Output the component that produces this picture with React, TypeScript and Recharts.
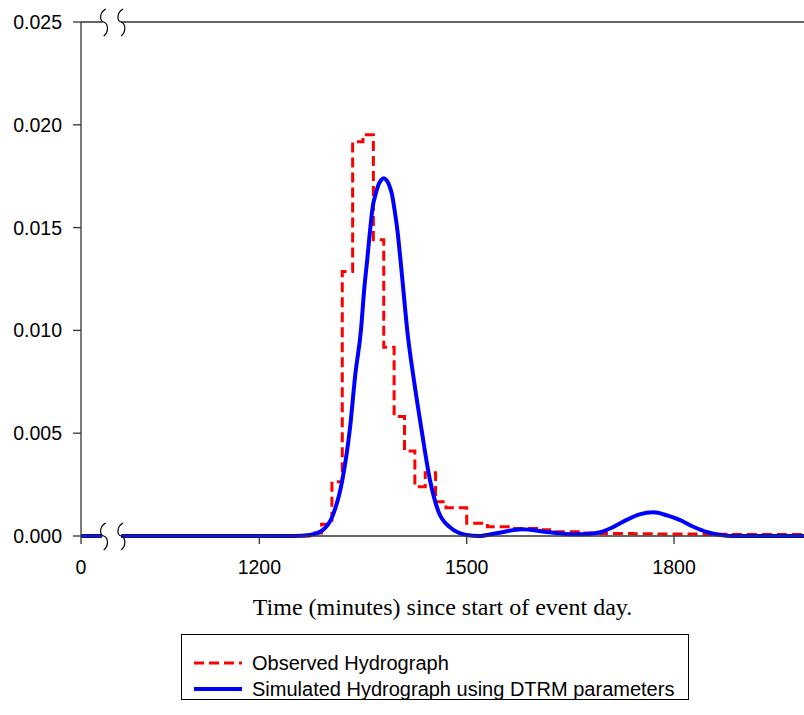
import React from 'react';
import { LineChart, Line, XAxis, YAxis, ReferenceLine } from 'recharts';

// minutes shown to the left of the axis break, and their flow
const leftTime = [0, 30];
const leftFlow = [0, 0];

// observed hydrograph (15 minute bins, drawn as steps)
const observedTime = [
  1000, 1275, 1290, 1305, 1320, 1335, 1350, 1365, 1380, 1395, 1410, 1425, 1440, 1455,
  1470, 1500, 1530, 1560, 1605, 1620, 1665, 1680, 1695, 1740, 1770, 1845, 1860, 1875, 1988,
];
const observedFlow = [
  0, 0.00015, 0.00057, 0.00264, 0.01287, 0.01917, 0.01952, 0.01441, 0.00918, 0.00581,
  0.00414, 0.0024, 0.00308, 0.00166, 0.00138, 0.00062, 0.00045, 0.00037, 0.0003, 0.00021,
  0.00014, 0.00013, 0.00012, 0.00011, 0.0001, 0.00009, 0.00008, 0.00007, 0.00007,
];

// simulated hydrograph using DTRM parameters
const simulatedTime = [
  1000, 1250, 1273, 1292, 1305, 1320, 1331, 1339, 1347, 1352, 1356, 1360, 1364, 1368,
  1372, 1376, 1380, 1384, 1388, 1392, 1395, 1400, 1404, 1408, 1414, 1424, 1435, 1447,
  1459, 1476, 1500, 1517, 1545, 1580, 1615, 1656, 1675, 1693, 1710, 1730, 1750, 1770,
  1790, 1808, 1828, 1847, 1865, 1885, 1920, 1988,
];
const simulatedFlow = [
  0, 0, 0.00005, 0.0003, 0.0009, 0.0027, 0.0052, 0.0079, 0.01, 0.0121, 0.0134, 0.0148,
  0.016, 0.0166, 0.01705, 0.0173, 0.0174, 0.0173, 0.01705, 0.0166, 0.016, 0.0148, 0.0135,
  0.0121, 0.01, 0.0075, 0.0051, 0.0027, 0.0012, 0.00042, 0.00005, 0, 0.00015, 0.00033,
  0.0002, 0.00008, 0.0001, 0.00018, 0.0004, 0.00076, 0.00105, 0.00115, 0.001, 0.00078,
  0.00045, 0.0002, 0.00006, 0, 0, 0,
];

const xTickLabels = [0, 1200, 1500, 1800];
const yTicks = [0, 0.005, 0.01, 0.015, 0.02, 0.025];

const seriesNames = ['Observed Hydrograph', 'Simulated Hydrograph using DTRM parameters'];
const seriesColors = ['#FF0000', '#0000FF'];

// axis break: 0..LEFT_END is drawn as is, RIGHT_START onwards is shifted left by SHIFT
const LEFT_END = 30;
const RIGHT_START = 1000;
const SHIFT = 942;
const T_MAX = 1988;
const toAxis = (t: number) => (t <= LEFT_END ? t : t - SHIFT);
const fromAxis = (u: number) => (u <= LEFT_END ? u : u + SHIFT);
const U_MAX = toAxis(T_MAX);

const W = 804;
const H = 715;
const PLOT_LEFT = 81;
const PLOT_TOP = 22;
const PLOT_BOTTOM = 536;
const X_AXIS_H = 40;
const px = (u: number) => PLOT_LEFT + (u * (W - PLOT_LEFT)) / U_MAX;

const build = (times: number[], flows: number[]) => [
  ...leftTime.map((t, i) => ({ x: toAxis(t), y: leftFlow[i] as number | null })),
  { x: (LEFT_END + toAxis(RIGHT_START)) / 2, y: null },
  ...times.map((t, i) => ({ x: toAxis(t), y: flows[i] as number | null })),
];

const observedData = build(observedTime, observedFlow);
const simulatedData = build(simulatedTime, simulatedFlow);

const sans = '"Liberation Sans", Arial, sans-serif';
const serif = '"Liberation Serif", "Times New Roman", serif';

const breakPath = (cx: number, cy: number) =>
  `M ${cx + 2} ${cy - 13} C ${cx - 5} ${cy - 9}, ${cx - 4} ${cy - 1}, ${cx} ${cy} ` +
  `C ${cx + 5} ${cy + 2}, ${cx + 5} ${cy + 10}, ${cx} ${cy + 14}`;

const AxisBreaks = () => {
  const a = px(LEFT_END) + 2;
  const b = px(toAxis(RIGHT_START));
  return (
    <svg
      width={W}
      height={H}
      style={{ position: 'absolute', left: 0, top: 0, pointerEvents: 'none' }}
    >
      {[PLOT_TOP, PLOT_BOTTOM].map((cy) => (
        <g key={cy}>
          <rect x={a - 1} y={cy - 2.5} width={b - a + 1} height={5} fill="#fff" />
          <path d={breakPath(a, cy)} fill="none" stroke="#000" strokeWidth={1.2} />
          <path d={breakPath(b, cy)} fill="none" stroke="#000" strokeWidth={1.2} />
        </g>
      ))}
    </svg>
  );
};

const LegendBox = () => (
  <div
    style={{
      position: 'absolute',
      left: 181,
      top: 634,
      width: 508,
      height: 66,
      border: '1px solid #000',
      fontFamily: sans,
      fontSize: 20,
      color: '#000',
      boxSizing: 'border-box',
    }}
  >
    {seriesNames.map((name, i) => (
      <div
        key={name}
        style={{ position: 'absolute', left: 11, top: 15 + i * 26, height: 26, display: 'flex', alignItems: 'center' }}
      >
        <svg width={50} height={10} style={{ marginRight: 9 }}>
          <line
            x1={1}
            y1={5}
            x2={49}
            y2={5}
            stroke={seriesColors[i]}
            strokeWidth={i === 0 ? 3 : 4}
            strokeDasharray={i === 0 ? '10 5' : undefined}
          />
        </svg>
        <span>{name}</span>
      </div>
    ))}
  </div>
);

export default function App() {
  return (
    <div style={{ position: 'absolute', left: 0, top: 0, width: W, height: H, background: '#fff' }}>
      <LineChart
        width={W}
        height={H}
        margin={{ top: PLOT_TOP, right: 0, left: 0, bottom: H - PLOT_BOTTOM - X_AXIS_H }}
      >
        <XAxis
          type="number"
          dataKey="x"
          domain={[0, U_MAX]}
          allowDataOverflow
          ticks={xTickLabels.map(toAxis)}
          tickFormatter={(u: number) => String(Math.round(fromAxis(u)))}
          height={X_AXIS_H}
          tickSize={8}
          tickMargin={16}
          axisLine={{ stroke: '#333', strokeWidth: 1.3 }}
          tickLine={{ stroke: '#333', strokeWidth: 1.3 }}
          tick={{ fill: '#000', fontSize: 19.5, fontFamily: sans }}
        />
        <YAxis
          type="number"
          domain={[0, 0.025]}
          ticks={yTicks}
          width={PLOT_LEFT}
          tickFormatter={(v: number) => v.toFixed(3)}
          tickSize={8}
          tickMargin={11}
          axisLine={{ stroke: '#333', strokeWidth: 1.3 }}
          tickLine={{ stroke: '#333', strokeWidth: 1.3 }}
          tick={{ fill: '#000', fontSize: 19.5, fontFamily: sans }}
        />
        <ReferenceLine y={0.025} stroke="#333" strokeWidth={1.3} />
        <Line
          data={observedData}
          dataKey="y"
          name={seriesNames[0]}
          type="stepAfter"
          stroke={seriesColors[0]}
          strokeWidth={3}
          strokeDasharray="10 5"
          dot={false}
          activeDot={false}
          isAnimationActive={false}
        />
        <Line
          data={simulatedData}
          dataKey="y"
          name={seriesNames[1]}
          type="monotone"
          stroke={seriesColors[1]}
          strokeWidth={4}
          dot={false}
          activeDot={false}
          isAnimationActive={false}
        />
      </LineChart>
      <AxisBreaks />
      <div
        style={{
          position: 'absolute',
          left: PLOT_LEFT,
          width: W - PLOT_LEFT,
          top: 594,
          textAlign: 'center',
          fontFamily: serif,
          fontSize: 24,
          color: '#000',
          whiteSpace: 'nowrap',
        }}
      >
        Time (minutes) since start of event day.
      </div>
      <LegendBox />
    </div>
  );
}
